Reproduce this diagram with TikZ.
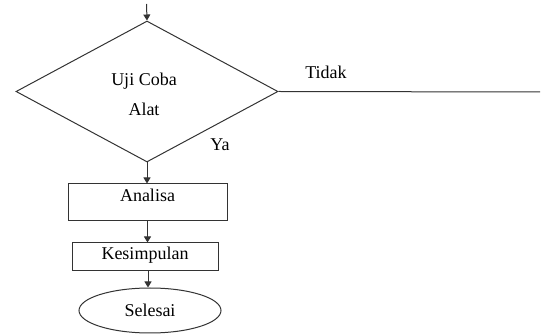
\documentclass[tikz,border=0pt]{standalone}
\usepackage{fontspec}
\setmainfont{Liberation Serif}
\usetikzlibrary{shapes.geometric,arrows.meta}
\begin{document}
\begin{tikzpicture}[x=1pt,y=-1pt,
  line/.style={draw=black!80,line width=1pt},
  arr/.style={line,-{Triangle[length=6pt,width=7pt]}},
  txt/.style={font=\fontsize{18}{30}\selectfont,text=black},
  boxnode/.style={line,txt,rectangle,inner sep=0pt},
]
\useasboundingbox (0,0) rectangle (541,336);
\node[line,diamond,minimum width=262pt,minimum height=141pt,inner sep=0pt] (dec) at (147,91.5) {};
\node[txt,align=center] (dectext) at (144,94) {Uji Coba\\Alat};
\coordinate (top) at (146.5,4);
\coordinate (tidakend) at (540,92);
\node[boxnode,minimum width=159pt,minimum height=37pt,text height=12pt,text depth=14pt] (ana) at (147.5,202.5) {Analisa};
\node[boxnode,minimum width=146pt,minimum height=28pt,text height=12pt,text depth=7pt] (kes) at (145,257) {Kesimpulan};
\node[line,txt,ellipse,minimum width=142pt,minimum height=45pt,inner sep=0pt] (sel) at (150,310.5) {Selesai};
\node[txt] (tidak) at (326,72) {Tidak};
\node[txt] (ya) at (220,145) {Ya};
\draw[arr] (top) -- (dec.north);
\draw[line] (dec.east) -- (tidakend);
\draw[arr] (dec.south) -- (dec.south |- ana.north);
\draw[arr] (147.5,0 |- ana.south) -- (147.5,0 |- kes.north);
\draw[arr] (148,0 |- kes.south) -- (148,0 |- sel.north);
\end{tikzpicture}
\end{document}
